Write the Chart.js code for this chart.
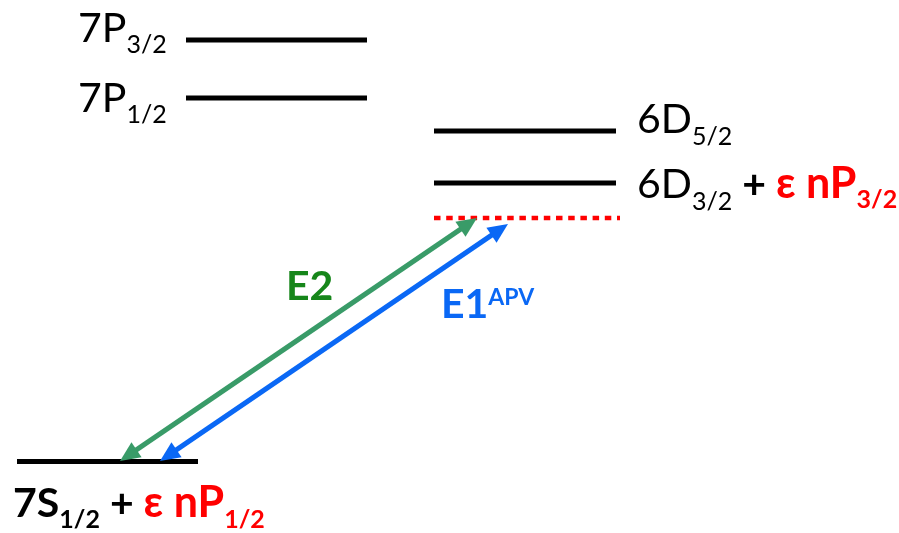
<!DOCTYPE html>
<html>
<head>
<meta charset="utf-8">
<script src="https://cdn.jsdelivr.net/npm/chart.js@4.4.1/dist/chart.umd.min.js"></script>
<style>
  html, body { margin: 0; padding: 0; background: #fff; }
  #wrap { width: 899px; height: 533px; }
</style>
</head>
<body>
<div id="wrap"><canvas id="diagram" width="899" height="533"></canvas></div>
<script>
// --- DATA ---
// energy axis runs 0..533 (bottom to top), horizontal axis 0..899
const levelNames  = ['7P3/2', '7P1/2', '6D5/2', '6D3/2', '7S1/2'];
const levelEnergy = [493, 435, 402, 350, 71.5];
const levelFrom   = [186, 186, 434, 434, 17];
const levelTo     = [367, 367, 616, 616, 198];

// virtual level reached by the excitation
const virtualEnergy = 315;
const virtualFrom = 434;
const virtualTo = 620;

// transitions: E2 (green) and E1 APV (blue)
const transNames  = ['E2', 'E1APV'];
const transFromX  = [120, 160];
const transFromY  = [72, 72];
const transToX    = [477, 508];
const transToY    = [315, 309];

const GREEN_ARROW = '#399b68';
const BLUE_ARROW = '#0a68f5';
const GREEN_TEXT = '#16861a';
const BLUE_TEXT = '#0a68f5';
const RED = '#ff0000';
const FONT = 'Lato, "Open Sans", sans-serif';

// text pieces: [text, size, bold, color, baseline shift]
function R(t, size, bold, color, dy) { return { t, size, bold, color: color || '#000', dy: dy || 0 }; }

const labels = [
  { x: 78,  y: 491, runs: [R('7P', 41), R('3/2', 25, false, '#000', 11)] },
  { x: 78,  y: 421, runs: [R('7P', 41), R('1/2', 25, false, '#000', 11)] },
  { x: 637, y: 400, runs: [R('6D', 41), R('5/2', 25, false, '#000', 12)] },
  { x: 637, y: 335, runs: [R('6D', 41), R('3/2', 25, false, '#000', 12), R(' + ', 41, true),
                            R('ε nP', 43, true, RED), R('3/2', 25, true, RED, 10)] },
  { x: 13,  y: 16,  runs: [R('7S', 41, true), R('1/2', 25, true, '#000', 11), R(' + ', 41, true),
                            R('ε nP', 43, true, RED), R('1/2', 25, true, RED, 11)] },
  { x: 286, y: 233, runs: [R('E2', 41, true, GREEN_TEXT)] },
  { x: 441, y: 215, runs: [R('E1', 41, true, BLUE_TEXT), R('APV', 23, true, BLUE_TEXT, -13)] }
];

// --- DATASETS ---
const datasets = [];
levelNames.forEach((name, i) => {
  datasets.push({
    label: name,
    data: [{ x: levelFrom[i], y: levelEnergy[i] }, { x: levelTo[i], y: levelEnergy[i] }],
    borderColor: '#000', borderWidth: 5, showLine: true, pointRadius: 0, borderCapStyle: 'butt'
  });
});
datasets.push({
  label: 'virtual',
  data: [{ x: virtualFrom, y: virtualEnergy }, { x: virtualTo, y: virtualEnergy }],
  borderColor: RED, borderWidth: 4.5, borderDash: [6.5, 5.7], showLine: true, pointRadius: 0
});
transNames.forEach((name, i) => {
  datasets.push({
    label: name, arrow: true,
    data: [{ x: transFromX[i], y: transFromY[i] }, { x: transToX[i], y: transToY[i] }],
    borderColor: i === 0 ? GREEN_ARROW : BLUE_ARROW,
    showLine: false, pointRadius: 0
  });
});

// --- PLUGINS ---
const arrowPlugin = {
  id: 'arrows',
  afterDatasetsDraw(chart) {
    const ctx = chart.ctx;
    chart.data.datasets.forEach((ds, i) => {
      if (!ds.arrow) return;
      const pts = chart.getDatasetMeta(i).data;
      const a = pts[0], b = pts[1];
      const ang = Math.atan2(b.y - a.y, b.x - a.x);
      const L = 20, W = 9;
      const cos = Math.cos(ang), sin = Math.sin(ang);
      ctx.save();
      ctx.strokeStyle = ds.borderColor;
      ctx.fillStyle = ds.borderColor;
      ctx.lineWidth = 5;
      ctx.beginPath();
      ctx.moveTo(a.x + cos * (L - 2), a.y + sin * (L - 2));
      ctx.lineTo(b.x - cos * (L - 2), b.y - sin * (L - 2));
      ctx.stroke();
      [[b, 1], [a, -1]].forEach(([p, d]) => {
        const bx = p.x - d * cos * L, by = p.y - d * sin * L;
        ctx.beginPath();
        ctx.moveTo(p.x, p.y);
        ctx.lineTo(bx - sin * W, by + cos * W);
        ctx.lineTo(bx + sin * W, by - cos * W);
        ctx.closePath();
        ctx.fill();
      });
      ctx.restore();
    });
  }
};

const textPlugin = {
  id: 'levelText',
  afterDraw(chart) {
    const ctx = chart.ctx;
    const xs = chart.scales.x, ys = chart.scales.y;
    ctx.save();
    ctx.textBaseline = 'alphabetic';
    ctx.textAlign = 'left';
    labels.forEach(lb => {
      let x = xs.getPixelForValue(lb.x);
      const y = ys.getPixelForValue(lb.y);
      lb.runs.forEach(r => {
        ctx.font = (r.bold ? 'bold ' : '') + r.size + 'px ' + FONT;
        ctx.fillStyle = r.color;
        ctx.fillText(r.t, x, y + r.dy);
        x += ctx.measureText(r.t).width;
      });
    });
    ctx.restore();
  }
};

new Chart(document.getElementById('diagram'), {
  type: 'scatter',
  data: { datasets },
  options: {
    responsive: false,
    animation: false,
    layout: { padding: 0 },
    plugins: { legend: { display: false }, tooltip: { enabled: false } },
    scales: {
      x: { type: 'linear', min: 0, max: 899, display: false },
      y: { type: 'linear', min: 0, max: 533, display: false }
    }
  },
  plugins: [arrowPlugin, textPlugin]
});
</script>
</body>
</html>
